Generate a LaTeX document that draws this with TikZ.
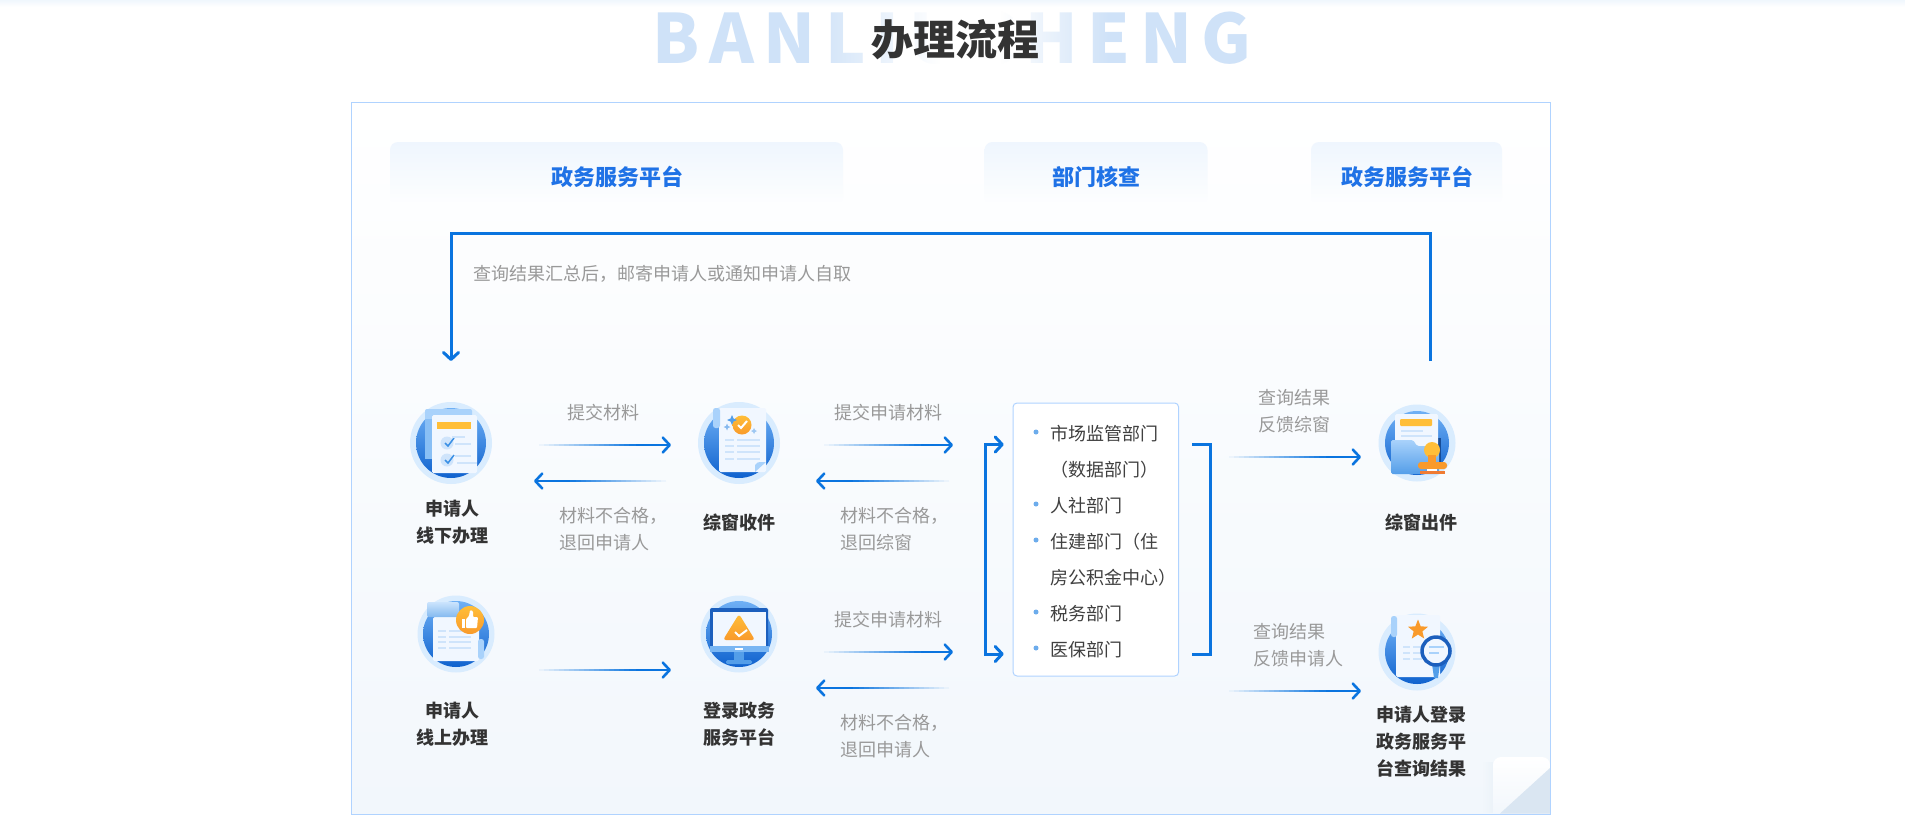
\documentclass[tikz,border=0pt]{standalone}
\usepackage{fontspec}
\setmainfont{Noto Sans CJK SC}
\usetikzlibrary{arrows.meta,calc,fadings,shapes.geometric}
\definecolor{flowblue}{HTML}{0A74DF}
\definecolor{panelline}{HTML}{B0D3FF}
\definecolor{panelend}{HTML}{F2F7FC}
\definecolor{headblue}{HTML}{1F72E6}
\definecolor{headtop}{HTML}{EFF6FE}
\definecolor{wordblue}{HTML}{CFE2F8}
\definecolor{ringblue}{HTML}{D9ECFE}
\definecolor{coretop}{HTML}{6FB0F5}
\definecolor{corebot}{HTML}{0F62CE}
\definecolor{paperfill}{HTML}{F1F7FF}
\definecolor{rowblue}{HTML}{CFE4FB}
\definecolor{scrollblue}{HTML}{A9D2FB}
\definecolor{deepblue}{HTML}{1C5FBD}
\definecolor{amber}{HTML}{FFBE38}
\definecolor{amberdeep}{HTML}{F99A2B}
\definecolor{stampline}{HTML}{EF7B33}
\definecolor{foldblue}{HTML}{DAE6F2}
\tikzfading[name=fadeinright,left color=transparent!100,right color=transparent!0]
\tikzfading[name=fadeoutright,left color=transparent!0,right color=transparent!100]
\newcommand{\fadestart}[2]{\colorlet{fadebase}{panelend!#2!white}
  \foreach \n in {0,5,...,95}{\draw[line width=2.7pt,draw=flowblue!\n!fadebase] ($(#1)+(\n-1,0)$) -- ($(#1)+(\n+5.5,0)$);}}
\newcommand{\fadeback}[2]{\colorlet{fadebase}{panelend!#2!white}
  \foreach \n in {0,5,...,95}{\draw[line width=2.7pt,draw=flowblue!\n!fadebase] ($(#1)+(1-\n,0)$) -- ($(#1)+(-5.5-\n,0)$);}}
\tikzset{
  flowline/.style={draw=flowblue,line width=2.6pt},
  flowarrow/.style={flowline,-{Straight Barb[length=7pt,width=15pt,round]}},
  graytext/.style={text=black!40,font=\fontsize{18}{27}\selectfont,align=left,inner sep=0pt},
  darktext/.style={text=black!80,font=\fontsize{18}{27}\selectfont\bfseries,align=center,inner sep=0pt},
  headtext/.style={text=headblue,font=\fontsize{22}{26}\selectfont\bfseries,inner sep=0pt},
  headbox/.style={rectangle,rounded corners=8pt,top color=headtop,bottom color=panelend!14!white,inner sep=0pt,minimum height=63pt},
  listtext/.style={text=black!75,font=\fontsize{18}{22}\selectfont,anchor=mid west,inner sep=0pt},
  listdot/.style={circle,fill=flowblue!60,inner sep=0pt,minimum size=5pt},
  iconring/.style={circle,fill=ringblue,inner sep=0pt,minimum size=#1},
  core/.style={top color=coretop,bottom color=corebot},
  paper/.style={fill=paperfill,rounded corners=1.5pt},
  row/.style={line width=2.4pt,draw=rowblue},
  badge/.style={top color=amber,bottom color=amberdeep}
}
\begin{document}
\begin{tikzpicture}[x=1pt,y=-1pt]
  \useasboundingbox (0,0) rectangle (1905,833);
  \fill[white] (0,0) rectangle (1905,833);
  \shade[top color=flowblue!6!white,bottom color=white] (0,0) rectangle (1905,7);

  \node[text=wordblue,font=\fontsize{68}{70}\selectfont\bfseries\addfontfeature{LetterSpace=14.2},inner sep=0pt] (pinyin) at (952,38){BANLIUCHENG};
  \fill[white,path fading=fadeinright] (810,8) rectangle (940,68);
  \fill[white] (940,8) rectangle (1000,68);
  \fill[white,path fading=fadeoutright] (1000,8) rectangle (1110,68);
  \node[text=black!80,font=\fontsize{42}{44}\selectfont\bfseries,inner sep=0pt] (title) at (955,40){办理流程};

  \shade[top color=white,bottom color=panelend,draw=panelline,line width=1pt] (351,102) rectangle (1550.5,814);

  \node[headbox,minimum width=453pt] (headleft) at (616.5,173.5){};
  \node[headbox,minimum width=223pt] (headmid) at (1096,173.5){};
  \node[headbox,minimum width=191pt] (headright) at (1406.5,173.5){};
  \node[headtext] (headlefttext) at (617,177){政务服务平台};
  \node[headtext] (headmidtext) at (1096,177){部门核查};
  \node[headtext] (headrighttext) at (1407,177){政务服务平台};

  \node[iconring=82pt] (offline) at (451,443){};
  \node[iconring=82pt] (receive) at (739,443){};
  \node[iconring=77pt] (online) at (456,634){};
  \node[iconring=77pt] (portal) at (739,634){};
  \node[iconring=77pt] (issue) at (1417,443){};
  \node[iconring=77pt] (query) at (1417,652){};

  \begin{scope}[shift={(offline.center)}]
    \shade[core] (0,0) circle (35);
    \fill[scrollblue,rounded corners=2pt] (-26,-34) rectangle (21,-10);
    \fill[scrollblue!80!flowblue] (-26,-24) rectangle (-19,16);
    \fill[paper] (-19,-28) rectangle (26,30);
    \fill[amber] (-14,-21) rectangle (20,-14);
    \fill[rowblue] (-4,0) circle (6.5);
    \fill[rowblue] (-4,17) circle (6.5);
    \draw[flowblue!80,line width=1.5pt] (-6,0) -- (-3,3) -- (3,-5);
    \draw[flowblue!80,line width=1.5pt] (-6,17) -- (-3,20) -- (3,12);
    \draw[row] (1,-6) -- (14,-6);
    \draw[row] (4,1) -- (20,1);
    \draw[row] (4,13) -- (20,13);
    \draw[row] (6,20) -- (26,20);
  \end{scope}

  \begin{scope}[shift={(receive.center)}]
    \shade[core] (0,0) circle (35);
    \fill[paper] (-20,-35) rectangle (27,29);
    \fill[scrollblue,rounded corners=2.5pt] (-26,-35) rectangle (-19,-15);
    \shade[badge] (3,-18) circle (9.5);
    \draw[white,line width=2pt] (-1,-18) -- (2,-15) -- (8,-22);
    \fill[flowblue!70] (-7,-28) -- (-5.5,-24.5) -- (-2,-23) -- (-5.5,-21.5) -- (-7,-18) -- (-8.5,-21.5) -- (-12,-23) -- (-8.5,-24.5) -- cycle;
    \fill[flowblue!50] (-12,-19.5) -- (-11,-17) -- (-8.5,-16) -- (-11,-15) -- (-12,-12.5) -- (-13,-15) -- (-15.5,-16) -- (-13,-17) -- cycle;
    \fill[flowblue!40] (15,-15) -- (16,-13) -- (18,-12) -- (16,-11) -- (15,-9) -- (14,-11) -- (12,-12) -- (14,-13) -- cycle;
    \draw[row] (-14,-3) -- (-5,-3);
    \draw[row] (-2,-3) -- (21,-3);
    \draw[row] (-14,3) -- (-5,3);
    \draw[row] (-2,3) -- (21,3);
    \draw[row] (-14,9) -- (-5,9);
    \draw[row] (-2,9) -- (21,9);
    \draw[row] (-14,16) -- (-5,16);
    \draw[row] (-2,16) -- (21,16);
    \fill[scrollblue] (16,29) -- (16,22) .. controls (17,19) and (19,19) .. (27,19) -- cycle;
  \end{scope}

  \begin{scope}[shift={(online.center)}]
    \shade[core] (0,0) circle (33);
    \fill[paper] (-23,-17) rectangle (23,27);
    \fill[scrollblue,rounded corners=2.5pt] (22,5) rectangle (28,25);
    \shade[top color=scrollblue!60,bottom color=flowblue!50,rounded corners=2pt] (-29,-32) rectangle (3,-17);
    \draw[row] (-18,-3) -- (-10,-3);
    \draw[row] (-7,-3) -- (15,-3);
    \draw[row] (-18,3) -- (-10,3);
    \draw[row] (-7,3) -- (15,3);
    \draw[row] (-18,8) -- (-10,8);
    \draw[row] (-7,8) -- (15,8);
    \draw[row] (-18,14) -- (-10,14);
    \draw[row] (-7,14) -- (15,14);
    \shade[badge] (14,-14) circle (14);
    \fill[white] (6,-15) rectangle (9,-6);
    \fill[white,rounded corners=1pt] (10,-15) -- (13,-18) -- (14,-24) -- (17,-23) -- (17,-17) -- (22,-17) -- (21,-6) -- (10,-6) -- cycle;
  \end{scope}

  \begin{scope}[shift={(portal.center)}]
    \shade[core] (0,0) circle (33);
    \fill[deepblue,rounded corners=2pt] (-29,-26) rectangle (29,14);
    \fill[paperfill] (-26,-22) rectangle (27,12);
    \fill[scrollblue!70!flowblue] (-29,12) rectangle (30,18);
    \fill[white] (-4,13.5) rectangle (4,15.5);
    \fill[flowblue!70] (-5,18) rectangle (5,26);
    \fill[flowblue!70,rounded corners=1.5pt] (-13,26) rectangle (13,30);
    \shade[badge,rounded corners=3pt] (0,-20) -- (-16,6) -- (16,6) -- cycle;
    \draw[white,line width=2pt] (-4,-2) -- (0,2) -- (8,-4);
  \end{scope}

  \begin{scope}[shift={(issue.center)}]
    \shade[core] (0,0) circle (32);
    \fill[deepblue!80!black] (18,-5) rectangle (24,20);
    \fill[paper] (-22,-29) rectangle (21,13);
    \fill[amber,rounded corners=1pt] (-17,-24) rectangle (15,-17);
    \draw[row] (-16,-12) -- (6,-12);
    \draw[row] (-16,-7) -- (15,-7);
    \shade[top color=scrollblue,bottom color=flowblue!70,rounded corners=1.5pt] (-26,31) -- (-26,-3) -- (-4,-3) -- (0,3) -- (22,3) -- (22,31) -- cycle;
    \fill[amber] (15,7) circle (8);
    \fill[amberdeep] (11,12) rectangle (19,20);
    \fill[amberdeep,rounded corners=3pt] (1,19) rectangle (30,26);
    \fill[white] (10,26) rectangle (20,28);
    \fill[stampline] (3,28) rectangle (28,31);
  \end{scope}

  \begin{scope}[shift={(query.center)}]
    \shade[core] (0,0) circle (32);
    \fill[paper] (-21,-37) rectangle (23,25);
    \fill[scrollblue,rounded corners=2.5pt] (-26,-36) rectangle (-20,-15);
    \node[star,star points=5,star point ratio=2.3,fill=amberdeep,inner sep=0pt,minimum size=21pt] (querystar) at (1,-22){};
    \draw[row] (-14,-5) -- (-7,-5);
    \draw[row] (-4,-5) -- (5,-5);
    \draw[row] (-14,1) -- (-7,1);
    \draw[row] (-4,1) -- (5,1);
    \draw[row] (-14,7) -- (-7,7);
    \draw[row] (-4,7) -- (5,7);
    \fill[flowblue!70] (15,12) -- (23,12) -- (21,26) -- (17,26) -- cycle;
    \fill[paperfill,draw=deepblue,line width=3.5pt] (19,-1) circle (14);
    \draw[scrollblue,line width=2.4pt] (12,-5) -- (27,-5);
    \draw[scrollblue,line width=2.4pt] (12,1) -- (22,1);
  \end{scope}

  \node[darktext] (offlinetext) at (452,522.5){申请人\\线下办理};
  \node[darktext] (receivetext) at (739,523){综窗收件};
  \node[darktext] (onlinetext) at (452,724.5){申请人\\线上办理};
  \node[darktext] (portaltext) at (739,724.5){登录政务\\服务平台};
  \node[darktext] (issuetext) at (1421,523){综窗出件};
  \node[darktext] (querytext) at (1421,741.5){申请人登录\\政务服务平\\台查询结果};

  \node[graytext] (mailtext) at (662,274){查询结果汇总后，邮寄申请人或通知申请人自取};
  \node[graytext] (submit) at (603,413){提交材料};
  \node[graytext,anchor=west] (returna) at (559.5,529){材料不合格，\\退回申请人};
  \node[graytext] (submitb) at (888,413){提交申请材料};
  \node[graytext,anchor=west] (returnb) at (840,529){材料不合格，\\退回综窗};
  \node[graytext] (submitc) at (888,620){提交申请材料};
  \node[graytext,anchor=west] (returnc) at (840,736){材料不合格，\\退回申请人};
  \node[graytext,anchor=west] (feedbacka) at (1258.6,411.5){查询结果\\反馈综窗};
  \node[graytext,anchor=west] (feedbackb) at (1253,645.5){查询结果\\反馈申请人};

  \node[rectangle,draw=panelline,fill=white,rounded corners=4pt,line width=1pt,minimum width=165.6pt,minimum height=273pt,inner sep=0pt] (deptbox) at (1095.8,539.5){};
  \node[listdot] (dota) at (1036,432){};
  \node[listdot] (dotb) at (1036,504){};
  \node[listdot] (dotc) at (1036,540){};
  \node[listdot] (dotd) at (1036,612){};
  \node[listdot] (dote) at (1036,648){};
  \node[listtext] (deptc) at (1050,437.3){市场监管部门};
  \node[listtext] (deptd) at (1050,473.3){（数据部门）};
  \node[listtext] (depte) at (1050,509.5){人社部门};
  \node[listtext] (deptf) at (1050,545.5){住建部门（住};
  \node[listtext] (deptg) at (1050,581.3){房公积金中心）};
  \node[listtext] (depth) at (1050,617.5){税务部门};
  \node[listtext] (depti) at (1050,653.5){医保部门};

  \coordinate (backstart) at (1430,361);
  \coordinate (backend) at (451,361);
  \coordinate (backtop) at (451,233);
  \coordinate (a1) at (535,445);
  \coordinate (a2) at (671,445);
  \coordinate (b1) at (670,481);
  \coordinate (b2) at (534,481);
  \coordinate (c1) at (820,445);
  \coordinate (c2) at (953,445);
  \coordinate (d1) at (953,481);
  \coordinate (d2) at (816,481);
  \coordinate (e1) at (535,670);
  \coordinate (e2) at (671,670);
  \coordinate (f1) at (820,652);
  \coordinate (f2) at (953,652);
  \coordinate (g1) at (953,688);
  \coordinate (g2) at (816,688);
  \coordinate (h1) at (1225,457);
  \coordinate (h2) at (1361,457);
  \coordinate (i1) at (1225,691);
  \coordinate (i2) at (1361,691);
  \coordinate (lefttop) at (1003.7,444.5);
  \coordinate (leftbot) at (1003.7,654);
  \coordinate (leftin) at (985,444.5);
  \coordinate (leftout) at (985,654);
  \coordinate (righttop) at (1192,444.5);
  \coordinate (rightbot) at (1192,654);
  \coordinate (rightmidtop) at (1210,444.5);
  \coordinate (rightmidbot) at (1210,654);

  \begin{scope}[flowarrow]
    \draw[line width=3pt] (backstart) |- (backtop) -- (backend);
    \draw (a1) to (a2);
    \draw (b1) to (b2);
    \draw (c1) to (c2);
    \draw (d1) to (d2);
    \draw (e1) to (e2);
    \draw (f1) to (f2);
    \draw (g1) to (g2);
    \draw (h1) to (h2);
    \draw (i1) to (i2);
    \draw[line width=3pt,{Straight Barb[length=7pt,width=15pt,round]}-{Straight Barb[length=7pt,width=15pt,round]}] (lefttop) -- (leftin) -- (leftout) -- (leftbot);
  \end{scope}
  \draw[flowline,line width=3pt,-] (righttop) -- (rightmidtop) -- (rightmidbot) -- (rightbot);

  \fadestart{a1}{48}
  \fadeback{b1}{53}
  \fadestart{c1}{48}
  \fadeback{d1}{53}
  \fadestart{e1}{80}
  \fadestart{f1}{77}
  \fadeback{g1}{82}
  \fadestart{h1}{50}
  \fadestart{i1}{83}

  \fill[foldblue!50,path fading=fadeinright] (1483,762) rectangle (1493,813);
  \shade[top color=white,bottom color=panelend,rounded corners=8pt] (1493,813.5) -- (1493,757) -- (1550,757) -- (1550,790) -- (1505,813.5) -- cycle;
  \fill[foldblue] (1550,768) -- (1550,813.5) -- (1500,813.5) -- cycle;
  \draw[panelline,line width=1pt] (1550.5,102) -- (1550.5,814) -- (351,814);
\end{tikzpicture}
\end{document}
